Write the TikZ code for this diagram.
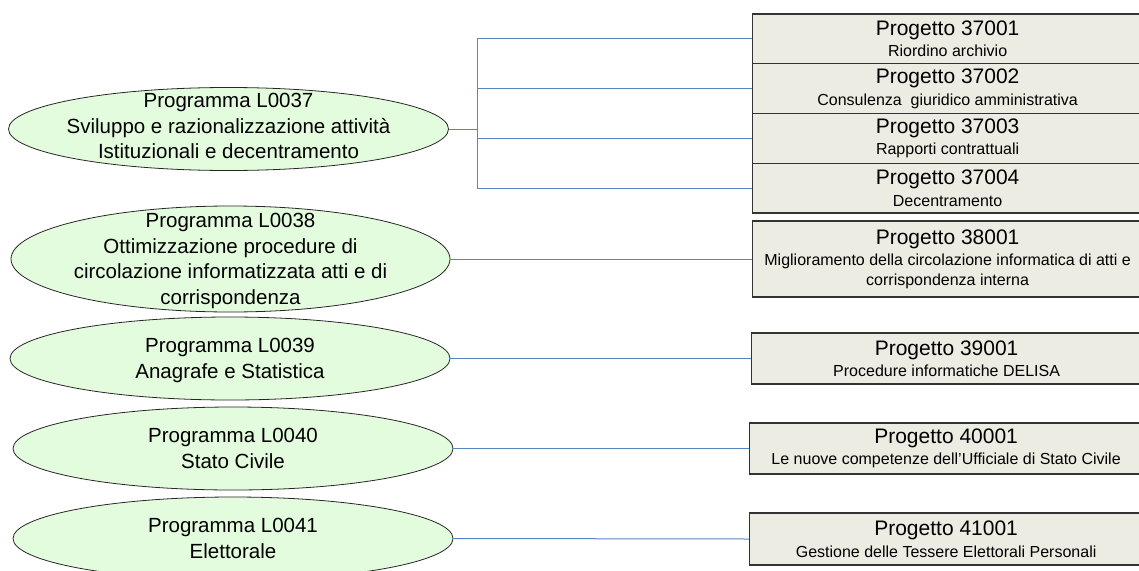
\documentclass[tikz,border=0pt]{standalone}
\usepackage{fontspec}
\setmainfont{Liberation Sans}
\usetikzlibrary{shapes.geometric}
\definecolor{progfill}{RGB}{228,252,222}
\definecolor{projfill}{RGB}{236,236,226}
\definecolor{linkblue}{RGB}{86,132,196}
\begin{document}
\begin{tikzpicture}[x=1pt,y=-1pt,
		prog/.style={draw=black!85,line width=0.8pt,ellipse,fill=progfill,inner sep=0pt,minimum width=440pt,minimum height=83pt},
		progtext/.style={align=center,inner sep=0pt,font=\fontsize{20.5}{25.5}\selectfont},
		proj/.style={draw=black!80,line width=1.2pt,fill=projfill,anchor=west,minimum width=390pt,inner sep=1pt,align=center,font=\fontsize{16}{19.5}\selectfont},
		link/.style={draw=linkblue,line width=1pt}]
			\clip (0,0) rectangle (1139,570);

			% Programmi
			\node[prog] (p37) at (228.5,129) {};
			\node[prog,minimum width=439pt,minimum height=106pt] (p38) at (230.5,259) {};
			\node[prog] (p39) at (230,358.5) {};
			\node[prog] (p40) at (233,448.5) {};
			\node[prog] (p41) at (233,538.5) {};

			\node[progtext] (t37) at ([yshift=3pt]p37.center) {Programma L0037\\Sviluppo e razionalizzazione attività\\Istituzionali e decentramento};
			\node[progtext] (t38) at ([yshift=-2pt]p38.center) {Programma L0038\\Ottimizzazione procedure di\\circolazione informatizzata atti e di\\corrispondenza};
			\node[progtext] (t39) at ([yshift=-2pt]p39.center) {Programma L0039\\Anagrafe e Statistica};
			\node[progtext] (t40) at (p40.center) {Programma L0040\\Stato Civile};
			\node[progtext] (t41) at (p41.center) {Programma L0041\\Elettorale};

			% Progetti
			\node[proj,minimum height=49.75pt] (b37001) at (752,38.9) {{\fontsize{21}{21}\selectfont Progetto 37001}\\[2pt]Riordino archivio};
			\node[proj,minimum height=49.75pt] (b37002) at (752,88.6) {{\fontsize{21}{21}\selectfont Progetto 37002}\\[2pt]Consulenza\ \ giuridico amministrativa};
			\node[proj,minimum height=49.75pt] (b37003) at (752,138.4) {{\fontsize{21}{21}\selectfont Progetto 37003}\\[2pt]Rapporti contrattuali};
			\node[proj,minimum height=49.75pt] (b37004) at (752,188.1) {{\fontsize{21}{21}\selectfont Progetto 37004}\\[2pt]Decentramento};
			\node[proj,minimum height=76pt] (b38001) at (752,259) {{\fontsize{21}{21}\selectfont Progetto 38001}\\[2pt]Miglioramento della circolazione informatica di atti e\\corrispondenza interna};
			\node[proj,minimum height=51pt] (b39001) at (751,358.5) {{\fontsize{21}{21}\selectfont Progetto 39001}\\[2pt]Procedure informatiche DELISA};
			\node[proj,minimum height=51pt,minimum width=393pt] (b40001) at (749,448.5) {{\fontsize{21}{21}\selectfont Progetto 40001}\\[2pt]Le nuove competenze dell’Ufficiale di Stato Civile};
			\node[proj,minimum height=52pt,minimum width=393pt] (b41001) at (749,539) {{\fontsize{21}{21}\selectfont Progetto 41001}\\[2pt]Gestione delle Tessere Elettorali Personali};

			% Collegamenti
			\coordinate (fork) at (477,129);
			\draw[link] (p37.east) -- (fork);
			\draw[link] (fork) |- (b37001.west);
			\draw[link] (fork) |- (b37002.west);
			\draw[link] (fork) |- (b37003.west);
			\draw[link] (fork) |- (b37004.west);
			\draw[link] (p38.east) -- (b38001.west);
			\draw[link] (p39.east) -- (b39001.west);
			\draw[link] (p40.east) -- (b40001.west);
			\draw[link] (p41.east) -- (b41001.west);
		\end{tikzpicture}
\end{document}
